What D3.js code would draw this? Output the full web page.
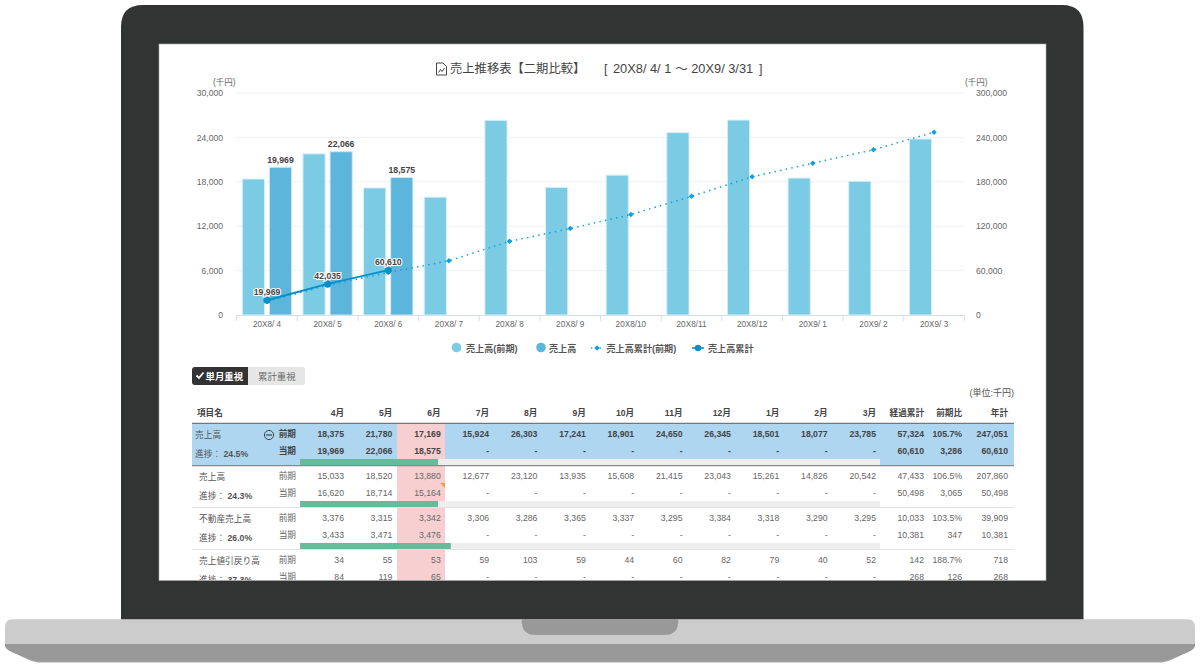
<!DOCTYPE html>
<html><head><meta charset="utf-8">
<script src="https://cdnjs.cloudflare.com/ajax/libs/d3/7.8.5/d3.min.js"></script>
<style>html,body{margin:0;padding:0;background:#fff}svg{display:block}text{font-family:"Liberation Sans","Noto Sans CJK JP",sans-serif}</style>
</head><body><svg id="c" width="1200" height="668"></svg>
<script>
const periodLabels=["20X8/ 4","20X8/ 5","20X8/ 6","20X8/ 7","20X8/ 8","20X8/ 9","20X8/10","20X8/11","20X8/12","20X9/ 1","20X9/ 2","20X9/ 3"];
const monthLabels=["4月","5月","6月","7月","8月","9月","10月","11月","12月","1月","2月","3月"];
const salesPrev=[18375,21780,17169,15924,26303,17241,18901,24650,26345,18501,18077,23785];
const salesCur=[19969,22066,18575];
const cumPrev=[18375,40155,57324,73248,99551,116792,135693,160343,186688,205189,223266,247051];
const cumCur=[19969,42035,60610];
const leftTicks=[0,6000,12000,18000,24000,30000];
const rightTicks=[0,60000,120000,180000,240000,300000];
const rowNames=["売上高","売上高","不動産売上高","売上値引戻り高"];
const rowProgress=["24.5%","24.3%","26.0%","37.3%"];
const rowBarFill=[23.8,23.8,26.0,37.3];
const rowPrev=[salesPrev,
 [15033,18520,13880,12677,23120,13935,15608,21415,23043,15261,14826,20542],
 [3376,3315,3342,3306,3286,3365,3337,3295,3384,3318,3290,3295],
 [34,55,53,59,103,59,44,60,82,79,40,52]];
const rowCur=[salesCur,[16620,18714,15164],[3433,3471,3476],[84,119,65]];
const rowPrevTotals=[["57,324","105.7%","247,051"],["47,433","106.5%","207,860"],["10,033","103.5%","39,909"],["142","188.7%","718"]];
const rowCurTotals=[["60,610","3,286","60,610"],["50,498","3,065","50,498"],["10,381","347","10,381"],["268","126","268"]];
const totalHeaders=["経過累計","前期比","年計"];

const svg=d3.select("#c"), fmt=d3.format(",");
// laptop frame
svg.append("path").attr("fill","#aaa").attr("d","M5 640H1195V645Q1195 649 1188 652L1172 659.5Q1166 662.6 1158 662.6H42Q34 662.6 28 659.5L12 652Q5 649 5 645Z");
svg.append("path").attr("fill","#999").attr("d","M5 640H1195V645Q1195 649 1188 652L1172 658.8Q1166 661.6 1158 661.6H42Q34 661.6 28 658.8L12 652Q5 649 5 645Z");
svg.append("path").attr("fill","#ccc").attr("d","M13 619.3H1187Q1195 619.3 1195 627.3V644H5V627.3Q5 619.3 13 619.3Z");
svg.append("path").attr("fill","#323433").attr("d","M121 619.3V27Q121 5 143 5H1062Q1083.5 5 1083.5 27V619.3Z");
svg.append("path").attr("fill","#999").attr("d","M521.7 619.3H678.3V621Q678.3 635 664 635H536Q521.7 635 521.7 621Z");
svg.append("rect").attr("x",159).attr("y",44).attr("width",887).attr("height",536.5).attr("fill","#fff").attr("stroke","#aaa").attr("stroke-width",.6);
svg.append("clipPath").attr("id","scr").append("rect").attr("x",159).attr("y",44).attr("width",887).attr("height",536);
const g=svg.append("g").attr("clip-path","url(#scr)");

// title
const tc="#444";
g.append("path").attr("fill","none").attr("stroke",tc).attr("stroke-width",1).attr("d","M436.5 63H443L446.5 66.5V75H436.5ZM438.5 72.5L440.5 69.5L442 71.5L444.5 68");
g.append("text").attr("x",450).attr("y",72.7).attr("font-size",12.3).attr("fill",tc).text("売上推移表【二期比較】");
g.append("text").attr("x",604).attr("y",72.7).attr("font-size",12.6).attr("fill",tc).text("[");
g.append("text").attr("x",613).attr("y",72.7).attr("font-size",12.8).attr("fill",tc).text("20X8/ 4/ 1 ～ 20X9/ 3/31");
g.append("text").attr("x",759).attr("y",72.7).attr("font-size",12.6).attr("fill",tc).text("]");

// chart scales
const x=d3.scaleBand().domain(periodLabels).range([236.7,964.4]);
const yL=d3.scaleLinear().domain([0,30000]).range([315,93]);
const yR=d3.scaleLinear().domain([0,300000]).range([315,93]);
const barW=22.2, barOff=[5.6,32.7];
const grey="#666";
g.append("g").selectAll("line").data(leftTicks.slice(1)).join("line").attr("x1",236.7).attr("x2",964.4)
 .attr("y1",d=>yL(d)).attr("y2",d=>yL(d)).attr("stroke","#eef0f3");
g.append("text").attr("x",213).attr("y",85).attr("font-size",8.5).attr("fill",grey).text("(千円)");
g.append("text").attr("x",965).attr("y",85).attr("font-size",8.5).attr("fill",grey).text("(千円)");
const axL=g.append("g").attr("transform","translate(226,0)").call(d3.axisLeft(yL).tickValues(leftTicks).tickSize(0).tickFormat(fmt));
const axR=g.append("g").attr("transform","translate(973,0)").call(d3.axisRight(yR).tickValues(rightTicks).tickSize(0).tickFormat(fmt));
[axL,axR].forEach(a=>{a.select(".domain").remove();a.selectAll("text").attr("font-size",8.6).attr("fill",grey).attr("font-family",null);});
const axB=g.append("g").attr("transform","translate(0,315)").call(d3.axisBottom(x).tickSize(0).tickPadding(6));
axB.select(".domain").attr("stroke","#d5dde8");
axB.selectAll("text").attr("font-size",8.2).attr("fill",grey).attr("font-family",null);
g.append("g").selectAll("line").data(periodLabels.concat(["end"])).join("line")
 .attr("x1",d=>d==="end"?964.4:x(d)).attr("x2",d=>d==="end"?964.4:x(d)).attr("y1",315).attr("y2",321).attr("stroke","#d5dde8");
// bars
g.append("g").attr("stroke","#d8eff7").attr("stroke-width",1).selectAll("rect").data(salesPrev).join("rect")
 .attr("x",(d,i)=>x(periodLabels[i])+barOff[0]).attr("width",barW).attr("y",d=>yL(d)).attr("height",d=>315-yL(d)).attr("fill","#7ccbe5");
g.append("g").attr("stroke","#cfe9f4").attr("stroke-width",1).selectAll("rect").data(salesCur).join("rect")
 .attr("x",(d,i)=>x(periodLabels[i])+barOff[1]).attr("width",barW).attr("y",d=>yL(d)).attr("height",d=>315-yL(d)).attr("fill","#5cb5da");
const cx=i=>x(periodLabels[i])+x.bandwidth()/2;
const line=d3.line().x((d,i)=>cx(i)).y(d=>yR(d));
const marker=d3.symbol(d3.symbolSquare,15);
g.append("path").attr("d",line(cumPrev)).attr("fill","none").attr("stroke","#0ea1dc").attr("stroke-width",1.5).attr("stroke-dasharray","1.5 4.2");
g.append("g").selectAll("path").data(cumPrev).join("path").attr("d",marker).attr("fill","#0ea1dc")
 .attr("transform",(d,i)=>`translate(${cx(i)},${yR(d)}) rotate(45)`);
g.append("path").attr("d",line(cumCur)).attr("fill","none").attr("stroke","#0a8fc9").attr("stroke-width",2);
g.append("g").selectAll("circle").data(cumCur).join("circle").attr("cx",(d,i)=>cx(i)).attr("cy",d=>yR(d)).attr("r",3.6).attr("fill","#0a8fc9");
function lab(xx,yy,t){g.append("text").attr("x",xx).attr("y",yy).attr("text-anchor","middle").attr("font-size",8.7).attr("font-weight","bold").attr("fill","#444").attr("stroke","#fff").attr("stroke-width",2).attr("paint-order","stroke").text(t);}
salesCur.forEach((d,i)=>lab(x(periodLabels[i])+barOff[1]+barW/2,yL(d)-4.5,fmt(d)));
cumCur.forEach((d,i)=>lab(cx(i),yR(d)-5,fmt(d)));
// legend
const lg=g.append("g").attr("font-size",9.1).attr("font-weight","bold");
[[456.5,"#7ccbe5"],[541,"#5cb5da"]].forEach(([a,c])=>lg.append("circle").attr("cx",a).attr("cy",347.5).attr("r",4.8).attr("fill",c));
[[466,"売上高(前期)"],[549,"売上高"],[606.5,"売上高累計(前期)"],[708,"売上高累計"]].forEach(([a,t])=>lg.append("text").attr("x",a).attr("y",351.5).attr("fill","#555").text(t));
lg.append("line").attr("x1",591).attr("x2",602).attr("y1",348).attr("y2",348).attr("stroke","#0ea1dc").attr("stroke-width",1.3).attr("stroke-dasharray","1.3 3");
lg.append("path").attr("d",marker).attr("transform","translate(597,348) rotate(45)").attr("fill","#0ea1dc");
lg.append("line").attr("x1",692).attr("x2",704).attr("y1",348).attr("y2",348).attr("stroke","#0a8fc9").attr("stroke-width",1.6);
lg.append("circle").attr("cx",698).attr("cy",348).attr("r",3.2).attr("fill","#0a8fc9");

// toggle
g.append("path").attr("fill","#e6e6e6").attr("d","M245 367H302Q305 367 305 370V382Q305 385 302 385H245Z");
g.append("path").attr("fill","#333").attr("d","M248 367H195Q192 367 192 370V382Q192 385 195 385H248Z");
g.append("path").attr("fill","none").attr("stroke","#fff").attr("stroke-width",1.8).attr("d","M196.5 375.5L199 378L203.5 372.5");
g.append("text").attr("x",205.5).attr("y",379.5).attr("font-size",9.4).attr("font-weight","bold").attr("fill","#fff").text("単月重視");
g.append("text").attr("x",258).attr("y",379.5).attr("font-size",9.4).attr("fill","#666").text("累計重視");
g.append("text").attr("x",1014).attr("y",396).attr("text-anchor","end").attr("font-size",9).attr("fill","#555").text("(単位:千円)");

// table
const colX=d3.scaleLinear().domain([0,11]).range([344,876]);
const totalX=[924,962,1008];
const rowTop=[424,466,508,550];
const barH=6.5;
const progX=d3.scaleLinear().domain([0,100]).range([300,880]);
const hdr=g.append("g").attr("font-size",8.6).attr("font-weight","bold").attr("fill","#444");
hdr.append("text").attr("x",197).attr("y",415.5).text("項目名");
monthLabels.forEach((m,i)=>hdr.append("text").attr("x",colX(i)).attr("y",415.5).attr("text-anchor","end").text(m));
totalHeaders.forEach((m,i)=>hdr.append("text").attr("x",totalX[i]).attr("y",415.5).attr("text-anchor","end").text(m));
g.append("rect").attr("x",192).attr("y",424).attr("width",822).attr("height",41).attr("fill","#aed6f1");
g.append("rect").attr("x",397).attr("y",424).attr("width",48).attr("height",160).attr("fill","#f8cfd0");
rowNames.forEach((nm,r)=>{
 const t=rowTop[r], first=r===0;
 const rg=g.append("g").attr("fill",first?"#444":"#666").attr("font-size",8.7).attr("font-weight",first?"bold":"normal");
 const nx=first?195:199;
 rg.append("text").attr("x",nx).attr("y",t+14).attr("font-weight","normal").attr("fill","#555").text(nm);
 const p=rg.append("text").attr("x",nx).attr("y",t+33.3).attr("fill","#555").attr("font-weight","normal").text("進捗： ");
 p.append("tspan").attr("font-weight","bold").text(rowProgress[r]);
 rg.append("text").attr("x",296).attr("y",t+13).attr("text-anchor","end").text("前期");
 rg.append("text").attr("x",296).attr("y",t+30).attr("text-anchor","end").text("当期");
 rowPrev[r].forEach((v,i)=>rg.append("text").attr("x",colX(i)).attr("y",t+13).attr("text-anchor","end").text(fmt(v)));
 monthLabels.forEach((m,i)=>rg.append("text").attr("x",colX(i)).attr("y",t+30).attr("text-anchor","end").text(i<rowCur[r].length?fmt(rowCur[r][i]):"-"));
 rowPrevTotals[r].forEach((v,i)=>rg.append("text").attr("x",totalX[i]).attr("y",t+13).attr("text-anchor","end").text(v));
 rowCurTotals[r].forEach((v,i)=>rg.append("text").attr("x",totalX[i]).attr("y",t+30).attr("text-anchor","end").text(v));
 const by=t+35;
 g.append("rect").attr("x",progX(0)).attr("y",by).attr("width",progX(100)-progX(0)).attr("height",barH).attr("fill","#eee");
 g.append("rect").attr("x",progX(0)).attr("y",by).attr("width",progX(rowBarFill[r])-progX(0)).attr("height",barH).attr("fill","#66bb9a");
 if(r>0) g.append("line").attr("x1",192).attr("x2",1014).attr("y1",t+41.5).attr("y2",t+41.5).attr("stroke","#e2e2e2");
});
g.append("line").attr("x1",192).attr("x2",1014).attr("y1",423.3).attr("y2",423.3).attr("stroke","#777").attr("stroke-width",1.3);
g.append("line").attr("x1",192).attr("x2",1014).attr("y1",465.6).attr("y2",465.6).attr("stroke","#888").attr("stroke-width",1.2);
g.append("circle").attr("cx",269).attr("cy",435).attr("r",4.6).attr("fill","none").attr("stroke","#444");
g.append("line").attr("x1",266).attr("x2",272).attr("y1",435).attr("y2",435).attr("stroke","#444").attr("stroke-width",1.2);
g.append("path").attr("fill","#f49a50").attr("d","M440 483H445V488Z");
</script></body></html>
